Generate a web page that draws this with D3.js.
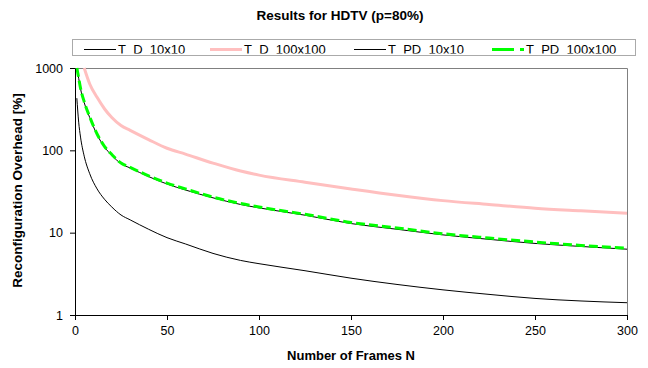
<!DOCTYPE html>
<html>
<head>
<meta charset="utf-8">
<script src="https://cdn.jsdelivr.net/npm/d3@7"></script>
<style>
  body { margin: 0; background: #fff; }
  text { font-family: Arial, "Liberation Sans", sans-serif; }
</style>
</head>
<body>
<svg id="chart" width="648" height="368"></svg>
<script>
// frames N sampled along the curves
const frames = [1, 2, 3, 5, 8, 12, 16, 20, 25, 30, 40, 50, 60, 75, 90, 100, 125, 150, 175, 200, 225, 250, 275, 300];
const tdSmall = [430, 220, 145, 85, 52, 34, 25.5, 20.5, 16.4, 14.3, 11.0, 8.7, 7.3, 5.6, 4.6, 4.2, 3.45, 2.8, 2.35, 2.02, 1.78, 1.59, 1.48, 1.41];
const framesBig = [5, 8, 12, 16, 20, 25, 30, 40, 50, 60, 75, 90, 100, 125, 150, 175, 200, 225, 250, 275, 300];
const tdBig = [1000, 640, 440, 320, 250, 200, 175, 135, 106, 90, 70, 56, 50, 41, 34, 28.5, 24.5, 22, 19.8, 18.4, 17.2];
const tpdSmall = [1000, 750, 560, 380, 250, 155, 110, 87, 69, 61, 48, 39, 33, 26.5, 22, 20, 16.3, 12.9, 11, 9.4, 8.3, 7.4, 6.8, 6.3];
const tpdBig = [1000, 760, 570, 390, 255, 158, 112, 89, 70, 62, 49, 40, 34, 27, 22.6, 20.5, 16.7, 13.3, 11.4, 9.7, 8.6, 7.7, 7.0, 6.5];
const xTicks = [0, 50, 100, 150, 200, 250, 300];
const yTicks = [1, 10, 100, 1000];

const series = [
  { name: "T_D_10x10", xs: frames, ys: tdSmall, color: "#000", width: 1, dash: null },
  { name: "T_D_100x100", xs: framesBig, ys: tdBig, color: "#ffbfbf", width: 3, dash: null },
  { name: "T_PD_10x10", xs: frames, ys: tpdSmall, color: "#000", width: 1, dash: null },
  { name: "T_PD_100x100", xs: frames, ys: tpdBig, color: "#00ff00", width: 3, dash: "9,4" }
];

const svg = d3.select("#chart");
const plotLeft = 75, plotRight = 627, plotTop = 68, plotBottom = 315;

const x = d3.scaleLinear().domain([0, 300]).range([plotLeft, plotRight]);
const y = d3.scaleLog().domain([1, 1000]).range([plotBottom, plotTop]);

svg.append("text")
  .attr("x", 340).attr("y", 20)
  .attr("text-anchor", "middle")
  .attr("font-size", 13.5).attr("font-weight", "bold")
  .text("Results for HDTV (p=80%)");

// plot frame (grey top/right)
svg.append("path")
  .attr("d", `M${plotLeft},${plotTop + 0.5}H${plotRight + 0.5}V${plotBottom}`)
  .attr("fill", "none").attr("stroke", "#808080").attr("stroke-width", 1);

const defs = svg.append("defs");
defs.append("clipPath").attr("id", "plotClip")
  .append("rect").attr("x", plotLeft).attr("y", plotTop - 1)
  .attr("width", plotRight - plotLeft).attr("height", plotBottom - plotTop + 1);
defs.append("clipPath").attr("id", "legClip")
  .append("rect").attr("x", 73).attr("y", 39).attr("width", 562).attr("height", 14.5);

const line = d3.line()
  .x(d => x(d[0]))
  .y(d => y(d[1]))
  .curve(d3.curveMonotoneX);

const plot = svg.append("g").attr("clip-path", "url(#plotClip)");
series.forEach(s => {
  plot.append("path")
    .attr("d", line(s.xs.map((n, i) => [n, s.ys[i]])))
    .attr("fill", "none")
    .attr("stroke", s.color)
    .attr("stroke-width", s.width)
    .attr("stroke-dasharray", s.dash);
});

// axes
const xAxis = svg.append("g")
  .attr("transform", `translate(0,${plotBottom})`)
  .call(d3.axisBottom(x).tickValues(xTicks).tickSize(5).tickPadding(6).tickSizeOuter(0));
const yAxis = svg.append("g")
  .attr("transform", `translate(${plotLeft},0)`)
  .call(d3.axisLeft(y).tickValues(yTicks).tickFormat(d3.format("d")).tickSize(5).tickPadding(7).tickSizeOuter(0));
[xAxis, yAxis].forEach(a => {
  a.selectAll("text").attr("font-size", 12.5).attr("fill", "#000")
    .attr("font-family", "Arial, 'Liberation Sans', sans-serif");
  a.selectAll("line, path").attr("stroke", "#000");
});

svg.append("text")
  .attr("x", 351).attr("y", 360)
  .attr("text-anchor", "middle")
  .attr("font-size", 13).attr("font-weight", "bold")
  .text("Number of Frames N");

svg.append("text")
  .attr("transform", `translate(22,${(plotTop + plotBottom) / 2 - 1}) rotate(-90)`)
  .attr("text-anchor", "middle")
  .attr("font-size", 13.5).attr("font-weight", "bold")
  .text("Reconfiguration Overhead [%]");

// legend
const legend = svg.append("g");
legend.append("rect")
  .attr("x", 72.5).attr("y", 39.5).attr("width", 563).attr("height", 16)
  .attr("fill", "#fff").attr("stroke", "#555").attr("stroke-dasharray", "1,1");

const legX = [84, 210, 354, 492];
const legText = legend.append("g").attr("clip-path", "url(#legClip)");
series.forEach((s, i) => {
  legend.append("line")
    .attr("x1", legX[i]).attr("x2", legX[i] + 32).attr("y1", 49.5).attr("y2", 49.5)
    .attr("stroke", s.color).attr("stroke-width", s.width)
    .attr("stroke-dasharray", s.dash ? "22,6" : null);
  legText.append("text")
    .attr("x", legX[i] + 34).attr("y", 53.5)
    .attr("font-size", 13)
    .text(s.name);
});
</script>
</body>
</html>
